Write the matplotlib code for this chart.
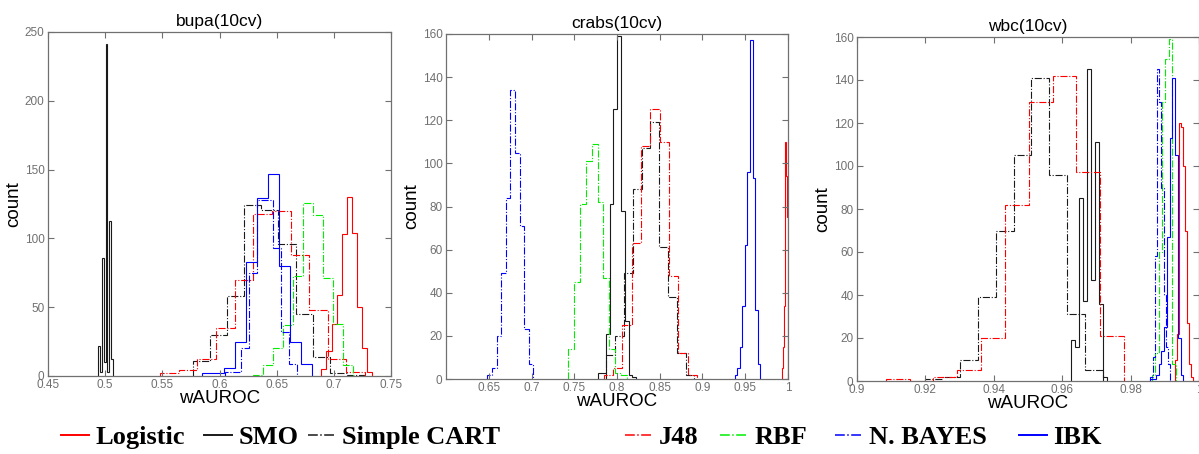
import matplotlib
matplotlib.use("Agg")
import matplotlib.pyplot as plt
import numpy as np
from matplotlib.lines import Line2D
from matplotlib.ticker import FormatStrFormatter

# classifiers / legend
classifiers = ['Logistic', 'SMO', 'Simple CART', 'J48', 'RBF', 'N. BAYES', 'IBK']
colors = ['#ff0000', '#1a1a1a', '#1a1a1a', '#ff0000', '#00ee00', '#0000ff', '#0000ff']
styles = ['-', '-', '-.', '-.', '-.', '-.', '-']

# histogram data: (first bin edge, bin width) and counts
bupa_bins = [(0.6892, 0.00438), (0.4935, 0.0017), (0.5765, 0.015), (0.548, 0.0163),
             (0.629, 0.0088), (0.6045, 0.007), (0.5846, 0.0096)]
bupa_logistic = [5, 18, 38, 59, 103, 130, 104, 50, 20, 3]
bupa_smo = [22, 3, 86, 10, 241, 3, 113, 12]
bupa_cart = [11, 30, 58, 124, 121, 96, 45, 14, 2, 1]
bupa_j48 = [2, 4, 12, 35, 70, 118, 120, 88, 48, 12, 3]
bupa_rbf = [1, 8, 20, 37, 73, 126, 117, 71, 38, 8]
bupa_nbayes = [3, 3, 20, 75, 128, 128, 93, 32, 9]
bupa_ibk = [2, 2, 6, 25, 83, 129, 147, 80, 25, 9]

crabs_bins = [(0.9925, 0.00125), (0.7783, 0.0044), (0.7876, 0.0103), (0.7844, 0.0109),
              (0.7428, 0.0069), (0.6483, 0.0054), (0.9376, 0.003)]
crabs_logistic = [5, 15, 34, 110, 94, 75]
crabs_smo = [3, 3, 21, 81, 125, 159, 78, 27, 2, 1]
crabs_cart = [11, 20, 49, 88, 107, 119, 61, 38, 12, 2]
crabs_j48 = [2, 5, 25, 63, 108, 125, 110, 48, 12, 2]
crabs_rbf = [14, 45, 81, 101, 109, 82, 47, 14, 3, 2]
crabs_nbayes = [2, 5, 20, 49, 84, 134, 105, 71, 23, 7]
crabs_ibk = [2, 5, 15, 34, 62, 96, 157, 93, 32, 7]

wbc_bins = [(0.9931, 0.00058), (0.9626, 0.00118), (0.9198, 0.0052), (0.9084, 0.00697),
            (0.9862, 0.001), (0.9858, 0.00064), (0.9858, 0.0008)]
wbc_logistic = [10, 22, 120, 118, 100, 70, 27, 8, 2]
wbc_smo = [19, 16, 85, 37, 145, 47, 111, 36, 2]
wbc_cart = [1, 2, 10, 39, 70, 105, 141, 96, 31, 5]
wbc_j48 = [1, 0, 2, 5, 20, 82, 130, 142, 97, 21]
wbc_rbf = [3, 13, 60, 130, 150, 159, 8]
wbc_nbayes = [2, 11, 58, 145, 130, 90, 40, 16, 8]
wbc_ibk = [1, 1, 3, 8, 14, 25, 67, 113, 141, 105, 20, 3]

panels = [
    ('bupa(10cv)', bupa_bins,
     [bupa_logistic, bupa_smo, bupa_cart, bupa_j48, bupa_rbf, bupa_nbayes, bupa_ibk],
     (0.45, 0.75), np.arange(0.45, 0.76, 0.05), (0, 250), np.arange(0, 251, 50)),
    ('crabs(10cv)', crabs_bins,
     [crabs_logistic, crabs_smo, crabs_cart, crabs_j48, crabs_rbf, crabs_nbayes, crabs_ibk],
     (0.6, 1.0), np.arange(0.65, 1.01, 0.05), (0, 160), np.arange(0, 161, 20)),
    ('wbc(10cv)', wbc_bins,
     [wbc_logistic, wbc_smo, wbc_cart, wbc_j48, wbc_rbf, wbc_nbayes, wbc_ibk],
     (0.9, 1.0), np.arange(0.9, 1.001, 0.02), (0, 160), np.arange(0, 161, 20)),
]

# axes boxes in pixels: left, top, right, bottom
W, H = 1199, 454
boxes = [(48, 32, 391, 376), (446, 34, 788, 379), (857, 37, 1199, 381)]

plt.rcParams['font.family'] = ['Liberation Sans', 'DejaVu Sans']
fig = plt.figure(figsize=(W / 100, H / 100), dpi=100)
frame = '#707070'

for (title, bins, series, xlim, xticks, ylim, yticks), (l, t, r, b) in zip(panels, boxes):
    ax = fig.add_axes([l / W, 1 - b / H, (r - l) / W, (b - t) / H])
    for (start, width), counts, c, ls in zip(bins, series, colors, styles):
        edges = start + width * np.arange(len(counts) + 1)
        ax.stairs(counts, edges, color=c, linestyle=ls, linewidth=0.8)
    ax.set_xlim(*xlim)
    ax.set_ylim(*ylim)
    ax.set_xticks(xticks)
    ax.set_yticks(yticks)
    ax.xaxis.set_major_formatter(FormatStrFormatter('%g'))
    ax.tick_params(direction='in', top=True, right=True, length=4, width=0.8,
                   colors=frame, labelsize=8.5, pad=2.5)
    for s in ax.spines.values():
        s.set_color(frame)
        s.set_linewidth(0.9)
    ax.set_title(title, fontsize=12.5, pad=4)
    ax.set_xlabel('wAUROC', fontsize=13.5, labelpad=-1)
    ax.set_ylabel('count', fontsize=13.5, labelpad=2)

# legend along the bottom, one entry at a time
leg_x = [61, 204, 308, 625, 720, 835, 1019]
leg_font = {'family': 'Liberation Serif', 'weight': 'bold', 'size': 19}
for name, c, ls, x in zip(classifiers, colors, styles, leg_x):
    h = Line2D([], [], color=c, linestyle=ls, linewidth=1.4 if ls == '-' else 1.1)
    fig.legend(handles=[h], labels=[name], loc='center left',
               bbox_to_anchor=(x / W, 1 - 437 / H), frameon=False,
               borderpad=0, borderaxespad=0, handlelength=1.05,
               handletextpad=0.25, prop=leg_font)

fig.savefig('out.png', dpi=100)
